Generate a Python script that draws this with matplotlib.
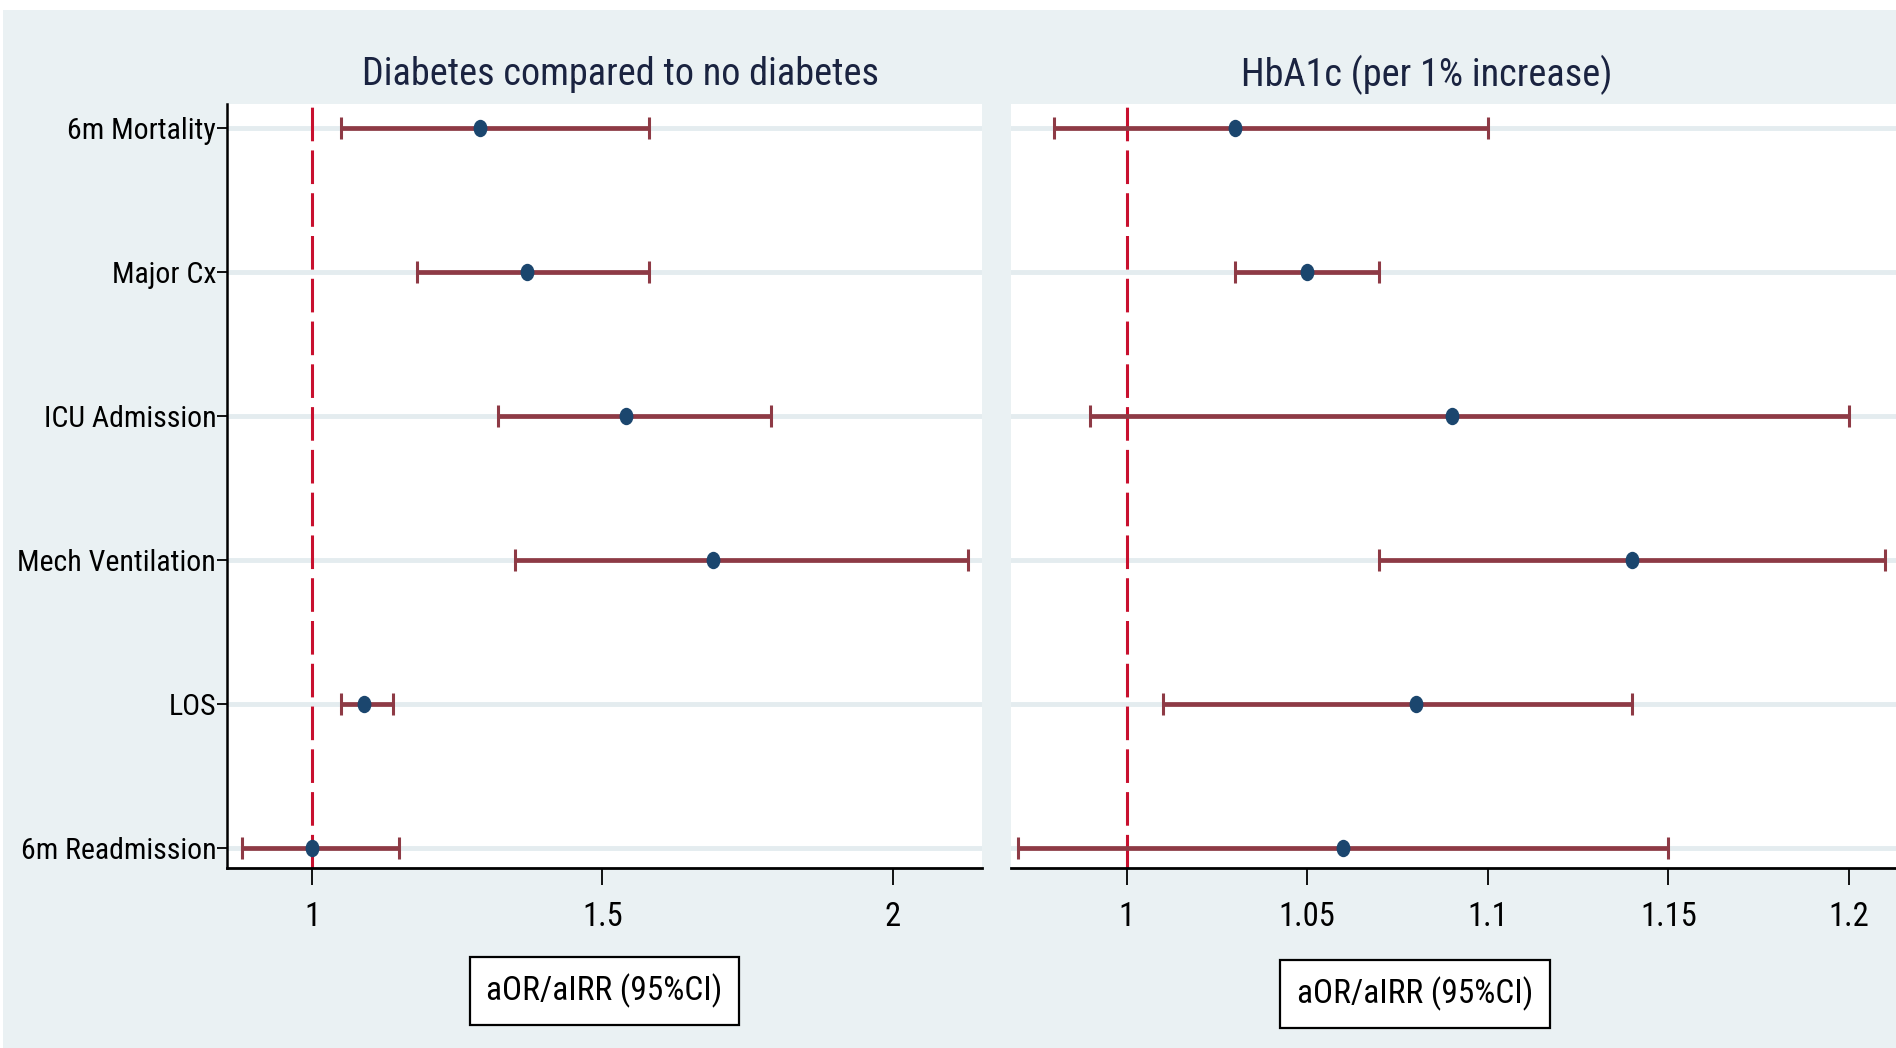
import matplotlib
matplotlib.use("Agg")
import matplotlib.pyplot as plt
from matplotlib import font_manager
from matplotlib.path import Path
from matplotlib.transforms import Affine2D

# Outcomes, listed top to bottom
outcomes = ["6m Mortality", "Major Cx", "ICU Admission", "Mech Ventilation", "LOS", "6m Readmission"]

# Diabetes vs no diabetes: estimate and 95% CI
dm_est = [1.29, 1.37, 1.54, 1.69, 1.09, 1.00]
dm_lo = [1.05, 1.18, 1.32, 1.35, 1.05, 0.88]
dm_hi = [1.58, 1.58, 1.79, 2.13, 1.14, 1.15]

# HbA1c per 1% increase: estimate and 95% CI
hb_est = [1.03, 1.05, 1.09, 1.14, 1.08, 1.06]
hb_lo = [0.98, 1.03, 0.99, 1.07, 1.01, 0.97]
hb_hi = [1.10, 1.07, 1.20, 1.21, 1.14, 1.15]

dm_ticks = [1, 1.5, 2]
dm_ticklabels = ["1", "1.5", "2"]
hb_ticks = [1, 1.05, 1.1, 1.15, 1.2]
hb_ticklabels = ["1", "1.05", "1.1", "1.15", "1.2"]

panel_titles = ["Diabetes compared to no diabetes", "HbA1c (per 1% increase)"]
xlabel_text = "aOR/aIRR (95%CI)"

# Narrow sans-serif face, with a plain fallback
names = {f.name for f in font_manager.fontManager.ttflist}
family = "Liberation Sans"
for cand in ["Roboto Condensed", "Archivo Narrow", "PT Sans Narrow", "Liberation Sans Narrow"]:
    if cand in names:
        family = cand
        break
narrow = family != "Liberation Sans"
plt.rcParams["font.family"] = [family, "DejaVu Sans"]
k = 1.0 if narrow else 0.8

YLAB = 21.5 * k
XTICK = 23.5 * k
TITLE = 27.5 * k
BOXLAB = 24 * k

BG = "#EAF1F3"
GRID = "#E4ECEF"
BAR = "#8E3A45"
DOT = "#1B466E"
REF = "#C8102E"

# Slightly upright oval point marker
oval = Path.unit_circle().transformed(Affine2D().scale(0.78, 1.0))

fig = plt.figure(figsize=(18.96, 10.48), dpi=100)
fig.patch.set_facecolor("white")
# Coloured graph region below a thin white band
fig.patches.append(plt.Rectangle((0.0015, 0), 0.9985, 0.99, transform=fig.transFigure,
                                 facecolor=BG, edgecolor="none", zorder=-10))

ypos = list(range(len(outcomes) - 1, -1, -1))

def draw_panel(ax, est, lo, hi, xlim, ticks, ticklabels, show_y):
    ax.set_facecolor("white")
    for y in ypos:
        ax.axhline(y, color=GRID, lw=3.5, zorder=1)
    ax.axvline(1, color=REF, lw=2.2, ls=(0, (11, 3)), zorder=2)
    xerr = [[e - l for e, l in zip(est, lo)], [h - e for e, h in zip(est, hi)]]
    ax.errorbar(est, ypos, xerr=xerr, fmt="none", ecolor=BAR, elinewidth=3.4,
                capsize=8, capthick=2.2, zorder=3)
    ax.plot(est, ypos, linestyle="none", marker=oval, color=DOT, markersize=11.5, zorder=4)
    ax.set_xlim(*xlim)
    ax.set_ylim(-0.135, 5.17)
    ax.set_xticks(ticks)
    ax.set_xticklabels(ticklabels)
    ax.tick_params(axis="x", length=12, width=1.3, pad=12, labelsize=XTICK, color="black")
    for s in ("top", "right"):
        ax.spines[s].set_visible(False)
    ax.spines["bottom"].set_linewidth(2)
    if show_y:
        ax.set_yticks(ypos)
        ax.set_yticklabels(outcomes)
        ax.tick_params(axis="y", length=7, width=1.3, pad=1, labelsize=YLAB)
        ax.spines["left"].set_linewidth(1.8)
    else:
        ax.set_yticks([])
        ax.spines["left"].set_visible(False)

ax1 = fig.add_axes([0.1199, 0.172, 0.398, 0.7288])
draw_panel(ax1, dm_est, dm_lo, dm_hi, (0.854, 2.154), dm_ticks, dm_ticklabels, True)

ax2 = fig.add_axes([0.5332, 0.172, 0.4668, 0.7288])
draw_panel(ax2, hb_est, hb_lo, hb_hi, (0.968, 1.213), hb_ticks, hb_ticklabels, False)

title_kw = dict(fontsize=TITLE, color="#1A2340", ha="center", va="center")
fig.text(513 / 1568, 1 - 62 / 867, panel_titles[0], **title_kw)
fig.text(1180 / 1568, 1 - 62 / 867, panel_titles[1], **title_kw)

box = dict(boxstyle="square,pad=0.5", facecolor="white", edgecolor="black", linewidth=1.6)
fig.text(500 / 1568, 1 - 820 / 867, xlabel_text, fontsize=BOXLAB, ha="center", va="center", bbox=box)
fig.text(1170 / 1568, 1 - 822 / 867, xlabel_text, fontsize=BOXLAB, ha="center", va="center", bbox=box)

fig.savefig("out.png", dpi=100, facecolor=fig.get_facecolor())
